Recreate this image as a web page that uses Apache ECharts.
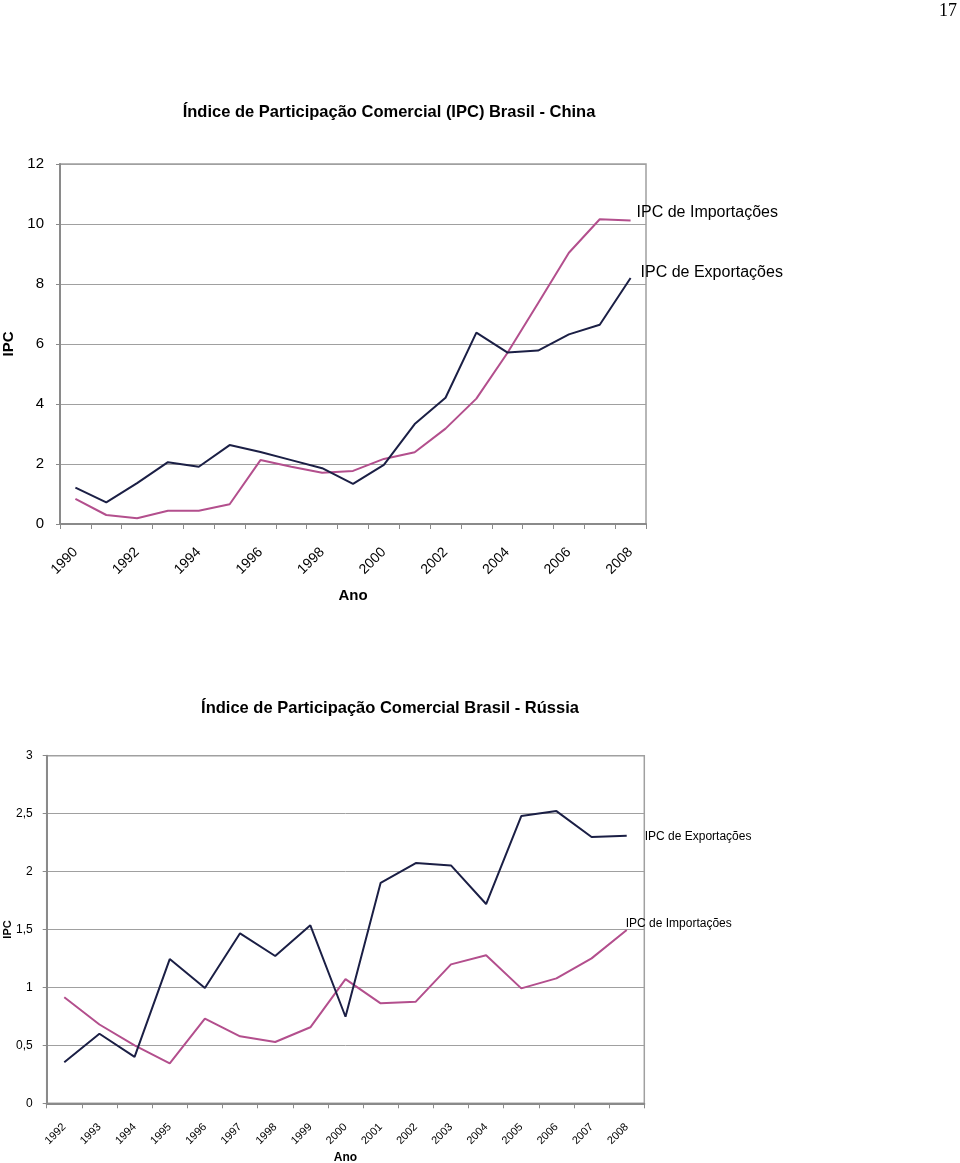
<!DOCTYPE html>
<html><head><meta charset="utf-8">
<script src="https://cdn.jsdelivr.net/npm/echarts@6/dist/echarts.min.js"></script>
<style>html,body{margin:0;padding:0;background:#fff}#c{width:960px;height:1163px}</style>
</head><body><div id="c"></div>
<script>
// ---- Brasil - China ----
const chinaYears = ['1990','1991','1992','1993','1994','1995','1996','1997','1998','1999','2000','2001','2002','2003','2004','2005','2006','2007','2008'];
const chinaExport = [1.21,0.72,1.36,2.06,1.91,2.63,2.40,2.13,1.86,1.34,1.97,3.33,4.21,6.38,5.72,5.78,6.32,6.64,8.20];
const chinaImport = [0.84,0.30,0.19,0.44,0.44,0.66,2.13,1.91,1.71,1.77,2.17,2.39,3.18,4.18,5.69,7.36,9.04,10.16,10.12];
const chinaYTicks = [0,2,4,6,8,10,12];

// ---- Brasil - Rússia ----
const russiaYears = ['1992','1993','1994','1995','1996','1997','1998','1999','2000','2001','2002','2003','2004','2005','2006','2007','2008'];
const russiaExport = [0.354,0.60,0.40,1.245,0.995,1.467,1.271,1.536,0.747,1.903,2.073,2.053,1.72,2.479,2.522,2.298,2.309];
const russiaImport = [0.915,0.68,0.50,0.345,0.73,0.578,0.529,0.656,1.072,0.863,0.877,1.199,1.277,0.992,1.078,1.251,1.495];
const russiaYTicks = [0,0.5,1,1.5,2,2.5,3];

const titleChina = 'Índice de Participação Comercial (IPC) Brasil - China';
const titleRussia = 'Índice de Participação Comercial Brasil - Rússia';
const nameExp = 'IPC de Exportações';
const nameImp = 'IPC de Importações';

const NAVY = '#1b1f45';
const PINK = '#b34f8d';
const AXIS = '#8a8a8a';
const GRIDC = '#a0a0a0';
const FONT = 'Liberation Sans, Arial, sans-serif';

const chart = echarts.init(document.getElementById('c'), null, {renderer:'canvas'});
chart.setOption({
  animation:false,
  backgroundColor:'#fff',
  textStyle:{fontFamily:FONT},
  title:[
    {text:'17', right:3, top:2, padding:0, textStyle:{fontFamily:'Liberation Serif, Times New Roman, serif', fontWeight:'normal', fontSize:18, color:'#000'}},
    {text:titleChina, left:384, top:99, textAlign:'center', textStyle:{fontFamily:FONT, fontWeight:'bold', fontSize:16.5, color:'#000'}},
    {text:titleRussia, left:385, top:695, textAlign:'center', textStyle:{fontFamily:FONT, fontWeight:'bold', fontSize:16.5, color:'#000'}}
  ],
  grid:[
    {left:60, top:164, width:586, height:360, show:true, borderColor:GRIDC, borderWidth:1.5, containLabel:false, outerBoundsMode:'none'},
    {left:46.7, top:755.7, width:597.6, height:347.6, show:true, borderColor:GRIDC, borderWidth:1.5, containLabel:false, outerBoundsMode:'none'}
  ],
  xAxis:[
    {gridIndex:0, type:'category', data:chinaYears, boundaryGap:true,
     name:'Ano', nameLocation:'middle', nameGap:64, nameTextStyle:{fontWeight:'bold', fontSize:15, color:'#000'},
     axisLine:{lineStyle:{color:AXIS, width:2}},
     axisTick:{show:true, interval:0, length:5, lineStyle:{color:AXIS, width:1}},
     axisLabel:{interval:1, rotate:45, margin:26, fontSize:14, color:'#000'},
     splitLine:{show:false}},
    {gridIndex:1, type:'category', data:russiaYears, boundaryGap:true,
     name:'Ano', nameLocation:'middle', nameGap:48, nameTextStyle:{fontWeight:'bold', fontSize:12, color:'#000'},
     axisLine:{lineStyle:{color:AXIS, width:2}},
     axisTick:{show:true, interval:0, length:5, lineStyle:{color:AXIS, width:1}},
     axisLabel:{interval:0, rotate:45, margin:22, fontSize:11, color:'#000'},
     splitLine:{show:false}}
  ],
  yAxis:[
    {gridIndex:0, type:'value', min:chinaYTicks[0], max:chinaYTicks[chinaYTicks.length-1], interval:chinaYTicks[1]-chinaYTicks[0],
     name:'IPC', nameLocation:'middle', nameGap:43, nameRotate:90, nameTextStyle:{fontWeight:'bold', fontSize:15, color:'#000'},
     axisLine:{show:true, lineStyle:{color:AXIS, width:2}},
     axisTick:{show:true, length:4, lineStyle:{color:AXIS}},
     axisLabel:{fontSize:15, color:'#000', margin:16},
     splitLine:{lineStyle:{color:GRIDC, width:1}}},
    {gridIndex:1, type:'value', min:russiaYTicks[0], max:russiaYTicks[russiaYTicks.length-1], interval:russiaYTicks[1]-russiaYTicks[0],
     name:'IPC', nameLocation:'middle', nameGap:33, nameRotate:90, nameMoveOverlap:false, nameTextStyle:{fontWeight:'bold', fontSize:11, color:'#000'},
     axisLine:{show:true, lineStyle:{color:AXIS, width:2}},
     axisTick:{show:true, length:4, lineStyle:{color:AXIS}},
     axisLabel:{fontSize:12, color:'#000', margin:14, formatter:v=>String(v).replace('.',',')},
     splitLine:{lineStyle:{color:GRIDC, width:1}}}
  ],
  series:[
    {name:nameImp, type:'line', xAxisIndex:0, yAxisIndex:0, data:chinaImport, symbol:'none', lineStyle:{color:PINK, width:2}, itemStyle:{color:PINK},
     endLabel:{show:true, formatter:'{a}', offset:[-2,-8], fontSize:16, color:'#000', fontFamily:FONT}},
    {name:nameExp, type:'line', xAxisIndex:0, yAxisIndex:0, data:chinaExport, symbol:'none', lineStyle:{color:NAVY, width:2}, itemStyle:{color:NAVY},
     endLabel:{show:true, formatter:'{a}', offset:[2,-5], fontSize:16, color:'#000', fontFamily:FONT}},
    {name:nameImp, type:'line', xAxisIndex:1, yAxisIndex:1, data:russiaImport, symbol:'none', lineStyle:{color:PINK, width:2}, itemStyle:{color:PINK},
     endLabel:{show:true, formatter:'{a}', offset:[-9,-6], fontSize:12, color:'#000', fontFamily:FONT}},
    {name:nameExp, type:'line', xAxisIndex:1, yAxisIndex:1, data:russiaExport, symbol:'none', lineStyle:{color:NAVY, width:2}, itemStyle:{color:NAVY},
     endLabel:{show:true, formatter:'{a}', offset:[10,1], fontSize:12, color:'#000', fontFamily:FONT}}
  ]
});
</script></body></html>
